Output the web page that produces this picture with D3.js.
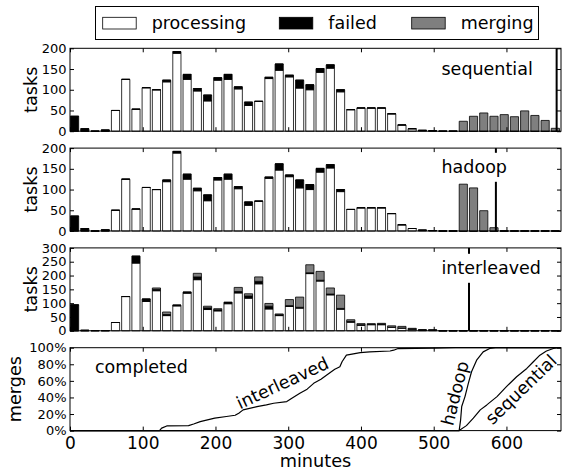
<!DOCTYPE html>
<html>
<head>
<meta charset="utf-8">
<script src="https://cdn.jsdelivr.net/npm/d3@7"></script>
<style>
  body { margin: 0; background: #fff; }
  svg { display: block; }
  text { font-family: "DejaVu Sans", "Liberation Sans", sans-serif; fill: #000; }
</style>
</head>
<body>
<svg id="chart" width="565" height="470"></svg>
<script>
// ---- data ---------------------------------------------------------------
const xMaxMinutes = 675;           // time axis extent
const binCount = 48;               // histogram bins across the run
const seriesNames = ["processing", "failed", "merging"];
const seriesColors = ["#ffffff", "#000000", "#7f7f7f"];

// tasks per bin, identical map phase for the sequential and hadoop runs
const processingShared = [0, 0, 0, 0, 50, 125, 53, 105, 100, 119, 188, 125, 97, 73, 123, 125,
  102, 62, 72, 127, 147, 131, 104, 100, 142, 152, 95, 52, 56, 56, 56, 42,
  15, 6, 2, 1, 0, 0, 0, 0, 0, 0, 0, 0, 0, 0, 0, 0];
const failedShared = [36, 6, 0, 3, 0, 0, 0, 0, 0, 4, 4, 12, 6, 14, 6, 12,
  5, 8, 0, 3, 15, 4, 19, 12, 9, 8, 5, 0, 0, 0, 0, 0,
  0, 0, 0, 0, 0, 0, 0, 0, 0, 0, 0, 0, 0, 0, 0, 0];
const mergingSequential = [0, 0, 0, 0, 0, 0, 0, 0, 0, 0, 0, 0, 0, 0, 0, 0,
  0, 0, 0, 0, 0, 0, 0, 0, 0, 0, 0, 0, 0, 0, 0, 0,
  0, 0, 0, 0, 0, 0, 24, 36, 44, 36, 40, 35, 49, 38, 26, 7];
const mergingHadoop = [0, 0, 0, 0, 0, 0, 0, 0, 0, 0, 0, 0, 0, 0, 0, 0,
  0, 0, 0, 0, 0, 0, 0, 0, 0, 0, 0, 0, 0, 0, 0, 0,
  0, 0, 0, 0, 0, 0, 113, 104, 49, 8, 0, 0, 0, 0, 0, 0];

// interleaved run
const processingInterleaved = [0, 0, 0, 0, 30, 124, 245, 106, 145, 55, 90, 136, 185, 77, 72, 98,
  137, 118, 170, 79, 55, 88, 82, 207, 180, 130, 78, 31, 20, 22, 22, 13,
  10, 6, 3, 2, 0, 0, 0, 0, 0, 0, 0, 0, 0, 0, 0, 0];
const failedInterleaved = [94, 2, 1, 1, 0, 0, 25, 9, 5, 4, 3, 4, 10, 6, 4, 5,
  5, 8, 9, 10, 3, 3, 3, 3, 3, 3, 3, 3, 2, 1, 2, 0,
  0, 0, 0, 0, 0, 0, 0, 0, 0, 0, 0, 0, 0, 0, 0, 0];
const mergingInterleaved = [0, 0, 0, 0, 0, 0, 0, 0, 5, 9, 0, 0, 13, 6, 4, 0,
  15, 8, 16, 10, 3, 22, 37, 29, 32, 22, 48, 6, 4, 3, 3, 5,
  6, 3, 0, 2, 0, 0, 0, 0, 0, 0, 0, 0, 0, 0, 0, 0];

// job completion times (minutes)
const finishSequential = 669;
const finishHadoop = 585.5;
const finishInterleaved = 548.5;

// cumulative share of completed merges: [minute, percent]
const completedInterleaved = [[0, 0], [123, 0], [126, 3], [133, 5.6], [163, 6], [170, 8], [179, 10.8],
  [199, 15], [215, 17], [227, 18.5], [232, 21], [238, 25], [257, 29], [270, 31], [280, 33],
  [298, 35], [305, 39], [316, 45], [326, 50], [335, 57], [345, 62], [353, 67], [364, 74],
  [371, 77], [374, 83], [380, 91], [399, 94], [412, 95], [440, 96], [445, 97], [451, 99],
  [500, 99.5], [530, 100], [675, 100]];
const completedHadoop = [[0, 0], [535, 0], [537, 13], [538.5, 29], [543, 41], [547.6, 57],
  [552, 71], [559, 85], [568, 95], [577, 99], [585, 100], [675, 100]];
const completedSequential = [[0, 0], [535, 0], [545, 6], [554.5, 15], [564, 25], [573, 31],
  [587, 41], [600, 53], [614, 65], [628, 75], [637, 83], [646, 91], [655, 96], [664.5, 99],
  [670, 100], [675, 100]];

// ticks
const xTicks = [0, 100, 200, 300, 400, 500, 600];
const yTicksTasks200 = [0, 50, 100, 150, 200];
const yTicksTasks300 = [0, 50, 100, 150, 200, 250, 300];
const yTicksPercent = [0, 20, 40, 60, 80, 100];

// ---- layout -------------------------------------------------------------
const svg = d3.select("#chart");
const left = 70, right = 561;
const panelTops = [48.3, 148.1, 247.9, 347.7];
const panelH = 82.9;
const tickLen = 4;

const x = d3.scaleLinear().domain([0, xMaxMinutes]).range([left, right]);
const binMinutes = xMaxMinutes / binCount;

const barPanels = [
  { name: "sequential", processing: processingShared, failed: failedShared, merging: mergingSequential,
    max: 200, ticks: yTicksTasks200, finish: finishSequential },
  { name: "hadoop", processing: processingShared, failed: failedShared, merging: mergingHadoop,
    max: 200, ticks: yTicksTasks200, finish: finishHadoop },
  { name: "interleaved", processing: processingInterleaved, failed: failedInterleaved, merging: mergingInterleaved,
    max: 300, ticks: yTicksTasks300, finish: finishInterleaved }
];

function frameAndTicks(g, y, yTicks, yFormat, showXLabels) {
  const top = y.range()[1], bottom = y.range()[0];
  // inward ticks on all four sides
  const axB = d3.axisBottom(x).tickValues(xTicks).tickSizeInner(-tickLen).tickSizeOuter(0).tickPadding(6)
    .tickFormat(showXLabels ? d3.format("d") : () => "");
  const axT = d3.axisTop(x).tickValues(xTicks).tickSizeInner(-tickLen).tickSizeOuter(0).tickFormat(() => "");
  const axL = d3.axisLeft(y).tickValues(yTicks).tickSizeInner(-tickLen).tickSizeOuter(0).tickPadding(3.5)
    .tickFormat(yFormat);
  const axR = d3.axisRight(y).tickValues(yTicks).tickSizeInner(-tickLen).tickSizeOuter(0).tickFormat(() => "");
  const gb = g.append("g").attr("transform", `translate(0,${bottom})`).call(axB);
  const gt = g.append("g").attr("transform", `translate(0,${top})`).call(axT);
  const gl = g.append("g").attr("transform", `translate(${left},0)`).call(axL);
  const gr = g.append("g").attr("transform", `translate(${right},0)`).call(axR);
  [gb, gt, gl, gr].forEach(a => {
    a.select(".domain").remove();
    a.selectAll(".tick line").attr("stroke", "#000").attr("stroke-width", 1);
    a.selectAll("text").attr("font-family", "DejaVu Sans").attr("fill", "#000");
  });
  gl.selectAll("text").attr("font-size", 13);
  gb.selectAll("text").attr("font-size", 17);
  g.append("rect").attr("x", left).attr("y", top).attr("width", right - left).attr("height", bottom - top)
    .attr("fill", "none").attr("stroke", "#000").attr("stroke-width", 1);
}

function boxedLabel(g, text, tx, ty) {
  const t = g.append("text").attr("x", tx).attr("y", ty).attr("font-size", 17.5).text(text);
  const bb = t.node().getBBox();
  const pad = 4.5;
  g.insert("rect", () => t.node())
    .attr("x", bb.x - pad).attr("y", bb.y - pad)
    .attr("width", bb.width + 2 * pad).attr("height", bb.height + 2 * pad)
    .attr("fill", "#fff");
}

// ---- stacked bar panels -------------------------------------------------
barPanels.forEach((p, k) => {
  const top = panelTops[k], bottom = top + panelH;
  const y = d3.scaleLinear().domain([0, p.max]).range([bottom, top]);
  const g = svg.append("g");

  const rows = d3.range(binCount).map(i => ({
    bin: i, processing: p.processing[i], failed: p.failed[i], merging: p.merging[i]
  }));
  const stacked = d3.stack().keys(seriesNames)(rows);

  stacked.forEach((layer, li) => {
    g.append("g").selectAll("path").data(layer).join("path")
      .attr("d", d => {
        const x0 = x(d.data.bin * binMinutes) + 0.5;
        const w = x(binMinutes * 0.8) - x(0);
        const y0 = y(d[0]), y1 = y(d[1]);
        return `M${x0},${y0}V${y1}H${x0 + w}V${y0}Z`;
      })
      .attr("fill", seriesColors[li])
      .attr("stroke", "#000")
      .attr("stroke-width", 0.8);
  });

  // completion marker
  g.append("line")
    .attr("x1", x(p.finish)).attr("x2", x(p.finish))
    .attr("y1", top).attr("y2", bottom)
    .attr("stroke", "#000").attr("stroke-width", 2);

  frameAndTicks(g, y, p.ticks, d3.format("d"), false);

  g.append("text")
    .attr("transform", `translate(36.5,${(top + bottom) / 2}) rotate(-90)`)
    .attr("text-anchor", "middle").attr("font-size", 17.7).text("tasks");

  boxedLabel(g, p.name, 441.5, top + [26.7, 25.2, 26.4][k]);
});

// ---- completed merges panel ---------------------------------------------
{
  const top = panelTops[3], bottom = top + panelH;
  const y = d3.scaleLinear().domain([0, 100]).range([bottom, top]);
  const g = svg.append("g");
  const line = d3.line().x(d => x(d[0])).y(d => y(d[1]));

  [completedInterleaved, completedHadoop, completedSequential].forEach(series => {
    g.append("path").attr("d", line(series))
      .attr("fill", "none").attr("stroke", "#000").attr("stroke-width", 1.2)
      .attr("stroke-linejoin", "round");
  });

  frameAndTicks(g, y, yTicksPercent, d => d + "%", true);

  g.append("text")
    .attr("transform", `translate(20.5,${(top + bottom) / 2}) rotate(-90)`)
    .attr("text-anchor", "middle").attr("font-size", 17.7).text("merges");

  g.append("text").attr("x", 95).attr("y", 372.5).attr("font-size", 17.5).text("completed");

  const curveLabels = [
    { text: "interleaved", cx: 282.5, cy: 383, angle: -25 },
    { text: "hadoop", cx: 455, cy: 393.3, angle: -76 },
    { text: "sequential", cx: 521, cy: 389.5, angle: -44 }
  ];
  curveLabels.forEach(c => {
    g.append("text")
      .attr("transform", `translate(${c.cx},${c.cy}) rotate(${c.angle})`)
      .attr("text-anchor", "middle").attr("dy", "0.35em")
      .attr("font-size", 17.5).text(c.text);
  });

  svg.append("text").attr("x", (left + right) / 2).attr("y", 467)
    .attr("text-anchor", "middle").attr("font-size", 17.7).text("minutes");
}

// ---- legend ---------------------------------------------------------------
{
  const lg = svg.append("g");
  lg.append("rect").attr("x", 95.5).attr("y", 6.5).attr("width", 443).attr("height", 33)
    .attr("fill", "#fff").attr("stroke", "#000").attr("stroke-width", 1);
  const itemX = [102.7, 279.3, 411.7];
  const items = lg.selectAll("g.item").data(seriesNames).join("g").attr("class", "item")
    .attr("transform", (d, i) => `translate(${itemX[i]},0)`);
  items.append("rect").attr("x", 0).attr("y", 17.3).attr("width", 33.5).attr("height", 11.7)
    .attr("fill", (d, i) => seriesColors[i]).attr("stroke", "#000").attr("stroke-width", 0.8);
  items.append("text").attr("x", 49).attr("y", 29).attr("font-size", 17.5).text(d => d);
}
</script>
</body>
</html>
